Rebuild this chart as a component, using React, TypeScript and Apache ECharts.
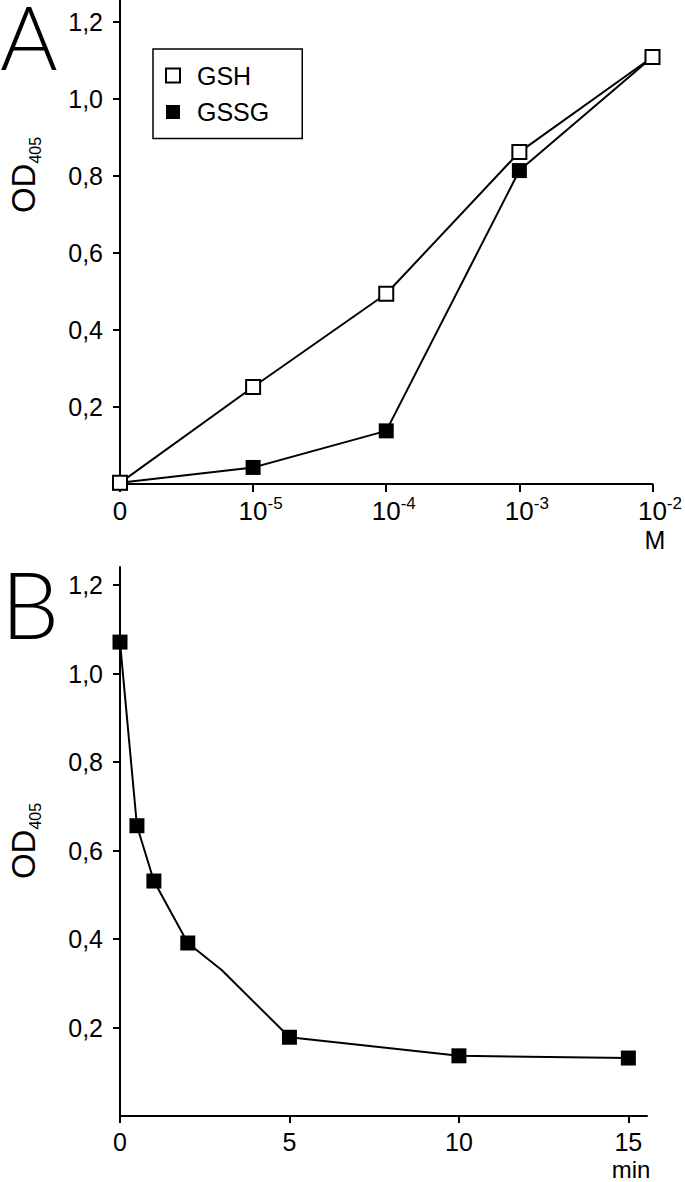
import React, { useEffect, useRef } from 'react';
import * as echarts from 'echarts';

// Panel A: OD405 vs concentration (M)
const concLabels = ['0', '10^-5', '10^-4', '10^-3', '10^-2'];
const gshOD = [0.003, 0.252, 0.494, 0.862, 1.109];
const gssgOD = [0.003, 0.043, 0.138, 0.814, 1.109];

// Panel B: OD405 vs time (min)
const timeMin = [0, 0.5, 1, 2, 3, 5, 10, 15];
const odTime = [1.071, 0.656, 0.531, 0.391, 0.33, 0.178, 0.136, 0.131];
const hasMarker = [true, true, true, true, false, true, true, true];

const yTicks = [0.2, 0.4, 0.6, 0.8, 1.0, 1.2];
const timeTicks = [0, 5, 10, 15];

const FONT = '"Liberation Sans", Arial, sans-serif';
const LETTER_FONT = 'Lato, "Open Sans", sans-serif';

export default function App() {
  const ref = useRef<HTMLDivElement>(null);

  useEffect(() => {
    if (!ref.current) return;
    const chart = echarts.init(ref.current, null, { renderer: 'svg' });

    const axisLine = { show: true, lineStyle: { color: '#000', width: 2 } };
    const tickStyle = { color: '#000', width: 2 };
    const yLabel = {
      customValues: yTicks,
      formatter: (v: number) => v.toFixed(1).replace('.', ','),
      margin: 17,
      fontSize: 25,
      color: '#000',
      fontFamily: FONT,
    };

    const odRich = {
      a: { fontSize: 33, lineHeight: 40, fontFamily: FONT, color: '#000' },
      b: { fontSize: 16, lineHeight: 16, verticalAlign: 'bottom', fontFamily: FONT, color: '#000' },
    };

    const option: any = {
      animation: false,
      backgroundColor: '#fff',
      grid: [
        { left: 120, top: 0, width: 533, height: 484 },
        { left: 120, top: 567, width: 527, height: 549 },
      ],
      legend: {
        data: ['GSH', 'GSSG'],
        orient: 'vertical',
        left: 153,
        top: 49,
        padding: [14, 33, 14, 12],
        itemGap: 11.5,
        itemWidth: 14,
        itemHeight: 14,
        icon: 'rect',
        borderColor: '#000',
        borderWidth: 1.5,
        selectedMode: false,
        textStyle: { fontSize: 25, fontFamily: FONT, color: '#000', padding: [0, 0, 0, 12], lineHeight: 25 },
      },
      xAxis: [
        {
          gridIndex: 0,
          type: 'category',
          data: concLabels,
          boundaryGap: false,
          axisLine,
          axisTick: { show: true, length: 8, alignWithLabel: true, lineStyle: tickStyle },
          axisLabel: {
            interval: 0,
            margin: 11,
            formatter: (v: string) => {
              const [b, e] = v.split('^');
              return e ? `{m|${b}}{s|${e}}` : `{n|${b}}`;
            },
            rich: {
              n: { fontSize: 26, lineHeight: 32, fontFamily: FONT, color: '#000' },
              m: { fontSize: 26, lineHeight: 32, fontFamily: FONT, color: '#000', padding: [0, 0, 0, 15] },
              s: { fontSize: 17, lineHeight: 17, verticalAlign: 'top', fontFamily: FONT, color: '#000' },
            },
          },
          splitLine: { show: false },
        },
        {
          gridIndex: 1,
          type: 'value',
          min: 0,
          max: 15.55,
          axisLine,
          axisTick: { show: true, length: 7, customValues: timeTicks, lineStyle: tickStyle },
          axisLabel: { customValues: timeTicks, margin: 13, fontSize: 25, color: '#000', fontFamily: FONT },
          splitLine: { show: false },
        },
      ],
      yAxis: [
        {
          gridIndex: 0,
          type: 'value',
          min: 0,
          max: 1.257,
          axisLine,
          axisTick: { show: true, length: 7, customValues: yTicks, lineStyle: tickStyle },
          axisLabel: yLabel,
          splitLine: { show: false },
        },
        {
          gridIndex: 1,
          type: 'value',
          min: 0,
          max: 1.2407,
          axisLine,
          axisTick: { show: true, length: 7, customValues: yTicks, lineStyle: tickStyle },
          axisLabel: yLabel,
          splitLine: { show: false },
        },
      ],
      series: [
        {
          name: 'GSSG',
          type: 'line',
          xAxisIndex: 0,
          yAxisIndex: 0,
          data: gssgOD,
          symbol: 'rect',
          symbolSize: 15,
          itemStyle: { color: '#000' },
          lineStyle: { color: '#000', width: 2 },
          z: 2,
        },
        {
          name: 'GSH',
          type: 'line',
          xAxisIndex: 0,
          yAxisIndex: 0,
          data: gshOD,
          symbol: 'rect',
          symbolSize: 14,
          itemStyle: { color: '#fff', borderColor: '#000', borderWidth: 2 },
          lineStyle: { color: '#000', width: 2 },
          z: 3,
        },
        {
          name: 'time',
          type: 'line',
          xAxisIndex: 1,
          yAxisIndex: 1,
          data: timeMin.map((t, i) => ({ value: [t, odTime[i]], symbol: hasMarker[i] ? 'rect' : 'none' })),
          symbol: 'rect',
          symbolSize: 15,
          itemStyle: { color: '#000' },
          lineStyle: { color: '#000', width: 2 },
          z: 3,
        },
      ],
      graphic: [
        {
          type: 'text',
          x: 0,
          y: 36,
          style: {
            text: 'A',
            fontSize: 88,
            fontWeight: 300,
            fontFamily: LETTER_FONT,
            lineHeight: 66,
            fill: '#000',
            textAlign: 'left',
            textVerticalAlign: 'middle',
          },
        },
        {
          type: 'text',
          x: 1,
          y: 603,
          style: {
            text: 'B',
            fontSize: 92,
            fontWeight: 300,
            fontFamily: LETTER_FONT,
            lineHeight: 70,
            fill: '#000',
            textAlign: 'left',
            textVerticalAlign: 'middle',
          },
        },
        {
          type: 'text',
          x: 23,
          y: 175,
          rotation: Math.PI / 2,
          style: { text: '{a|OD}{b|405}', rich: odRich, textAlign: 'center', textVerticalAlign: 'middle' },
        },
        {
          type: 'text',
          x: 23,
          y: 841,
          rotation: Math.PI / 2,
          style: { text: '{a|OD}{b|405}', rich: odRich, textAlign: 'center', textVerticalAlign: 'middle' },
        },
        {
          type: 'text',
          x: 655,
          y: 540,
          style: { text: 'M', font: `25px ${FONT}`, fill: '#000', textAlign: 'center', textVerticalAlign: 'middle' },
        },
        {
          type: 'text',
          x: 631,
          y: 1181,
          style: { text: 'min', font: `24px ${FONT}`, fill: '#000', textAlign: 'center', textVerticalAlign: 'bottom' },
        },
      ],
    };

    chart.setOption(option);
    return () => chart.dispose();
  }, []);

  return (
    <div
      ref={ref}
      style={{ position: 'absolute', left: 0, top: 0, width: 685, height: 1182, background: '#fff' }}
    />
  );
}
